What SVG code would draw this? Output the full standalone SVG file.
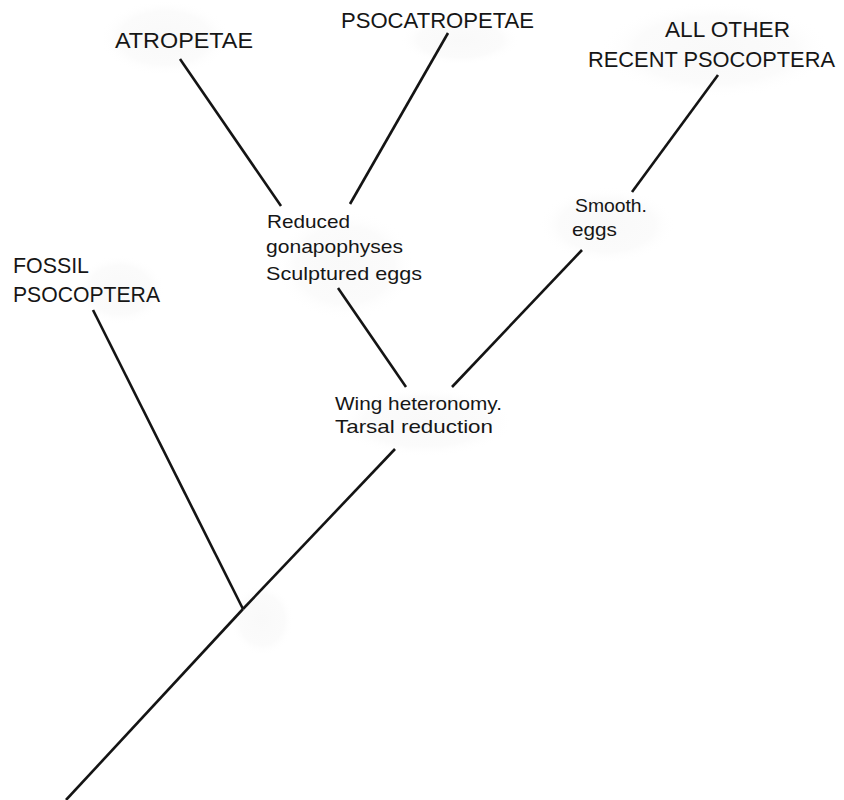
<svg xmlns="http://www.w3.org/2000/svg" width="844" height="800" viewBox="0 0 844 800">
<style>
.t{font-family:"Liberation Sans","DejaVu Sans",sans-serif;fill:#161616;}
.big{font-size:22px;}
.sm{font-size:19px;}
.c line{stroke:#141414;stroke-width:2.6;stroke-linecap:butt;}
.h{fill:url(#halo);}
</style>
<defs>
<radialGradient id="halo">
<stop offset="0" stop-color="#f9f9f9"/>
<stop offset="0.7" stop-color="#fbfbfb"/>
<stop offset="1" stop-color="#ffffff" stop-opacity="0"/>
</radialGradient>
</defs>
<rect width="844" height="800" fill="#fff"/>
<g id="halos">
<ellipse class="h" cx="165" cy="38" rx="65" ry="38"/>
<ellipse class="h" cx="460" cy="40" rx="60" ry="25"/>
<ellipse class="h" cx="715" cy="50" rx="115" ry="48"/>
<ellipse class="h" cx="120" cy="290" rx="45" ry="35"/>
<ellipse class="h" cx="345" cy="265" rx="70" ry="55"/>
<ellipse class="h" cx="607" cy="225" rx="68" ry="38"/>
<ellipse class="h" cx="425" cy="422" rx="88" ry="35"/>
<ellipse class="h" cx="262" cy="620" rx="32" ry="36"/>
</g>
<g id="connectors" class="c">
<line x1="180" y1="59" x2="281" y2="206"/>
<line x1="448" y1="33" x2="350" y2="204"/>
<line x1="718" y1="75" x2="632" y2="192"/>
<line x1="338" y1="288" x2="406" y2="387"/>
<line x1="582" y1="250" x2="452" y2="387"/>
<line x1="395" y1="449" x2="243" y2="609"/>
<line x1="93" y1="310" x2="243" y2="609"/>
<line x1="243" y1="609" x2="66" y2="800"/>
</g>
<g id="atropetae"><text class="t big" x="115" y="48" textLength="138" lengthAdjust="spacingAndGlyphs">ATROPETAE</text></g>
<g id="psocatropetae"><text class="t big" x="341" y="28" textLength="193" lengthAdjust="spacingAndGlyphs">PSOCATROPETAE</text></g>
<g id="all-other"><text class="t big" x="665" y="37" textLength="125" lengthAdjust="spacingAndGlyphs">ALL OTHER</text><text class="t big" x="588" y="67" textLength="247" lengthAdjust="spacingAndGlyphs">RECENT PSOCOPTERA</text></g>
<g id="fossil"><text class="t big" x="13" y="273" textLength="76" lengthAdjust="spacingAndGlyphs">FOSSIL</text><text class="t big" x="13" y="302" textLength="147" lengthAdjust="spacingAndGlyphs">PSOCOPTERA</text></g>
<g id="reduced"><text class="t sm" x="267" y="228" textLength="83" lengthAdjust="spacingAndGlyphs">Reduced</text><text class="t sm" x="266" y="253" textLength="137" lengthAdjust="spacingAndGlyphs">gonapophyses</text><text class="t sm" x="266" y="280" textLength="156" lengthAdjust="spacingAndGlyphs">Sculptured eggs</text></g>
<g id="smooth"><text class="t sm" x="575" y="212" textLength="72" lengthAdjust="spacingAndGlyphs">Smooth.</text><text class="t sm" x="572" y="236" textLength="45" lengthAdjust="spacingAndGlyphs">eggs</text></g>
<g id="wing"><text class="t sm" x="335" y="410" textLength="167" lengthAdjust="spacingAndGlyphs">Wing heteronomy.</text><text class="t sm" x="335" y="433" textLength="158" lengthAdjust="spacingAndGlyphs">Tarsal reduction</text></g>
</svg>
